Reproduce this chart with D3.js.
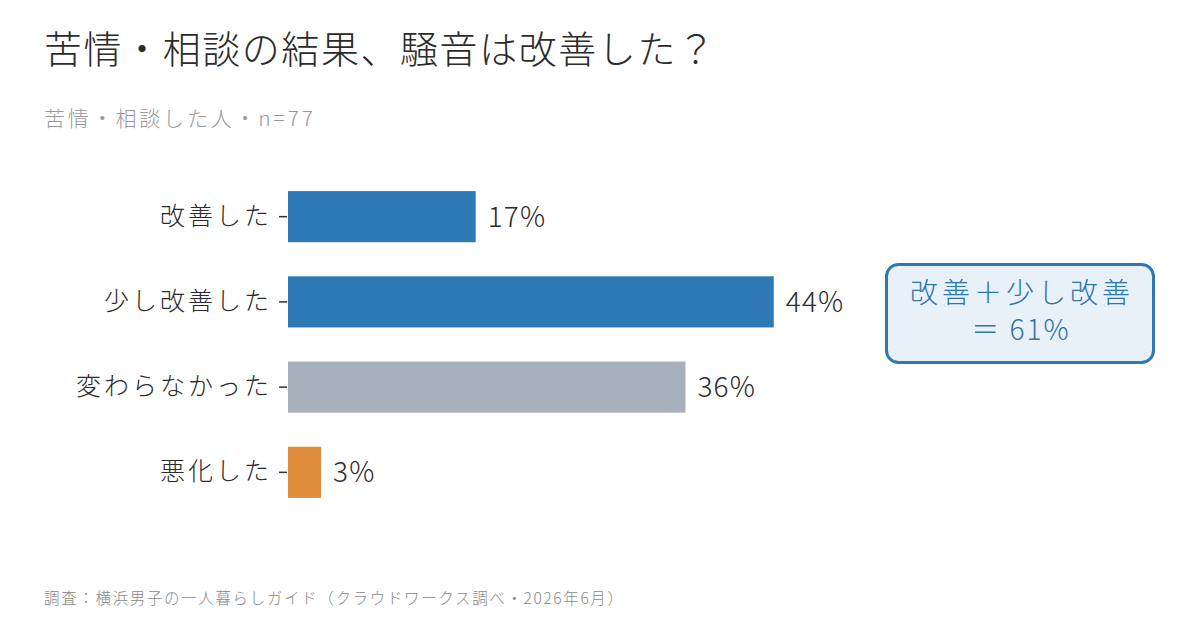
<!DOCTYPE html>
<html><head><meta charset="utf-8">
<script src="https://cdn.jsdelivr.net/npm/d3@7/dist/d3.min.js"></script>
<style>
html,body{margin:0;padding:0;background:#fff;}
svg{display:block;font-family:"Noto Sans CJK JP","Noto Sans",sans-serif;}
</style></head>
<body>
<svg id="chart" width="1200" height="628"></svg>
<script>
const categories = ["改善した","少し改善した","変わらなかった","悪化した"];
const values = [17, 44, 36, 3];
const barColors = ["#2e7ab4","#2e7ab4","#a8b1bb","#df8c3c"];
const title = "苦情・相談の結果、騒音は改善した？";
const subtitle = "苦情・相談した人・n=77";
const calloutLines = ["改善＋少し改善","＝ 61%"];
const footer = "調査：横浜男子の一人暮らしガイド（クラウドワークス調べ・2026年6月）";

const svg = d3.select("#chart");
svg.append("rect").attr("width",1200).attr("height",628).attr("fill","#fff");

function spread(sel, w){
  sel.attr("textLength", w).attr("lengthAdjust","spacing");
}

svg.append("text").attr("x",44).attr("y",63).attr("font-size",38).attr("font-weight",300)
  .attr("fill","#2b2b2b").text(title).call(spread,671);
svg.append("text").attr("x",44).attr("y",126).attr("font-size",21).attr("font-weight",300)
  .attr("fill","#999").text(subtitle).call(spread,269);
svg.append("text").attr("x",44).attr("y",604).attr("font-size",15.5).attr("font-weight",300)
  .attr("fill","#888").text(footer).call(spread,579);

const x = d3.scaleLinear().domain([0,50]).range([288,840]);
const y = d3.scaleBand().domain(categories).range([157,532]).padding(0.4);

const yAxis = d3.axisLeft(y).tickSize(8).tickPadding(10);
const g = svg.append("g").attr("transform","translate(287,0)").call(yAxis);
g.select(".domain").remove();
g.selectAll(".tick line").attr("stroke","#333").attr("stroke-width",1.5);
g.selectAll(".tick text").attr("font-size",25).attr("fill","#2b2b2b")
  .attr("font-weight",300)
  .attr("letter-spacing",3).attr("dx",3)
  .attr("font-family",'"Noto Sans CJK JP",sans-serif');

svg.append("g").selectAll("rect").data(categories).join("rect")
  .attr("x",x(0)).attr("y",d=>y(d))
  .attr("width",(d,i)=>x(values[i])-x(0))
  .attr("height",y.bandwidth())
  .attr("fill",(d,i)=>barColors[i]);

svg.append("g").selectAll("text").data(categories).join("text")
  .attr("x",(d,i)=>x(values[i])+12)
  .attr("y",d=>y(d)+y.bandwidth()/2)
  .attr("dy","0.36em")
  .attr("font-size",28).attr("font-weight",300).attr("letter-spacing",1.2)
  .attr("fill","#2b2b2b")
  .text((d,i)=>values[i]+"%");

const cb = svg.append("g");
cb.append("rect").attr("x",886.5).attr("y",264.5).attr("width",267).attr("height",98)
  .attr("rx",12).attr("fill","#e9f1f8").attr("stroke","#3079b0").attr("stroke-width",3);
const ct = cb.append("text").attr("text-anchor","middle").attr("font-size",28)
  .attr("font-weight",300).attr("fill","#2e74ad");
ct.selectAll("tspan").data(calloutLines).join("tspan")
  .attr("x",1020).attr("y",(d,i)=>303+i*37)
  .attr("letter-spacing",(d,i)=> i===0 ? 4 : 2)
  .attr("dx",(d,i)=> i===0 ? 2 : 1)
  .text(d=>d);
</script>
</body></html>
